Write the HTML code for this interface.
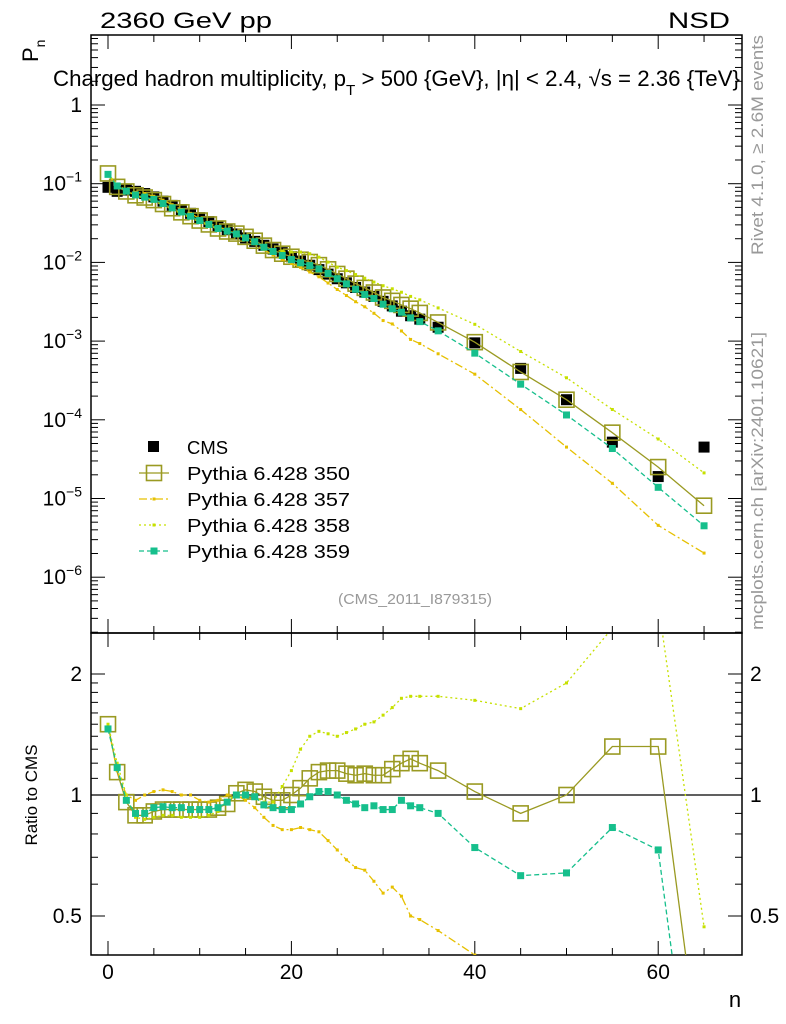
<!DOCTYPE html>
<html><head><meta charset="utf-8"><style>
html,body{margin:0;padding:0;background:#fff;width:786px;height:1024px;overflow:hidden}
svg{display:block;font-family:"Liberation Sans",sans-serif}
</style></head><body>
<svg id="c" width="786" height="1024" xmlns="http://www.w3.org/2000/svg"></svg>
<script>
const nvals=[0,1,2,3,4,5,6,7,8,9,10,11,12,13,14,15,16,17,18,19,20,21,22,23,24,25,26,27,28,29,30,31,32,33,34,36,40,45,50,55,60,65];
const cmsVals=[0.09,0.08,0.083,0.08,0.075,0.068,0.06,0.053,0.047,0.042,0.037,0.033,0.029,0.026,0.023,0.0205,0.0185,0.0165,0.0148,0.0133,0.0118,0.0104,0.0092,0.0081,0.0071,0.0062,0.0055,0.0048,0.0042,0.0037,0.0032,0.0028,0.0024,0.0021,0.0019,0.0015,0.00095,0.00045,0.00018,0.000052,0.000019,0.000045];
const r350=[1.5,1.14,0.96,0.89,0.89,0.91,0.92,0.92,0.92,0.92,0.92,0.92,0.93,0.95,1.01,1.03,1.02,0.99,0.97,0.97,1.0,1.04,1.1,1.14,1.15,1.15,1.13,1.12,1.13,1.12,1.12,1.16,1.2,1.23,1.2,1.15,1.02,0.9,1.0,1.32,1.32,0.18];
const r357=[1.48,1.15,1.0,0.97,1.0,1.02,1.03,1.02,1.0,1.0,0.97,0.96,0.97,1.0,1.0,0.97,0.93,0.88,0.84,0.82,0.82,0.83,0.82,0.81,0.77,0.73,0.69,0.66,0.65,0.61,0.57,0.59,0.56,0.5,0.49,0.46,0.4,0.3,0.25,0.3,0.24,0.045];
const r358=[1.5,1.2,1.0,0.88,0.87,0.88,0.89,0.89,0.88,0.88,0.88,0.89,0.91,0.97,1.0,1.0,0.99,0.96,0.96,1.05,1.15,1.3,1.4,1.44,1.42,1.4,1.43,1.46,1.5,1.52,1.58,1.65,1.74,1.76,1.76,1.76,1.72,1.64,1.9,2.6,3.0,0.47];
const r359=[1.46,1.17,0.97,0.9,0.9,0.93,0.935,0.93,0.93,0.92,0.92,0.92,0.93,0.96,1.0,1.0,0.99,0.945,0.93,0.92,0.92,0.95,0.99,1.02,1.02,1.0,0.97,0.95,0.93,0.94,0.92,0.92,0.97,0.94,0.93,0.9,0.74,0.63,0.64,0.83,0.73,0.1];
const xTicks=[0,20,40,60];
const yDecades=[0,-1,-2,-3,-4,-5,-6];
const rTicks=[0.5,1,2];

const NS="http://www.w3.org/2000/svg";
const svg=document.getElementById('c');
const L=91,R=742,T=35,MB=633,RB=955;
const X=n=>108+n*9.17;
const Y=p=>105-78.7*Math.log10(p);
const YR=r=>795-121*Math.log2(r);
function el(tag,attrs,parent){const e=document.createElementNS(NS,tag);for(const k in attrs)e.setAttribute(k,attrs[k]);(parent||svg).appendChild(e);return e;}
function txt(s,x,y,attrs,tl){const a=Object.assign({x:x,y:y,'font-size':20},attrs||{});if(tl){a.textLength=tl;a.lengthAdjust='spacingAndGlyphs';}const e=el('text',a);e.textContent=s;return e;}

const defs=el('defs',{});
const c1=el('clipPath',{id:'cm'},defs);el('rect',{x:L,y:T,width:R-L,height:MB-T},c1);
const c2=el('clipPath',{id:'cr'},defs);el('rect',{x:L,y:MB,width:R-L,height:RB-MB},c2);

const f1=el('rect',{x:L,y:T,width:R-L,height:MB-T,fill:'none',stroke:'#000','stroke-width':1.5});

const f2=el('rect',{x:L,y:MB,width:R-L,height:RB-MB,fill:'none',stroke:'#000','stroke-width':1.5});


for(let n=0;n<=65;n+=5){
  const big=(n%20===0);const len=big?14:7;const x=X(n);
  [[T,1],[MB,-1],[MB,1],[RB,-1]].forEach(([y,d])=>{el('line',{x1:x,x2:x,y1:y,y2:y+d*len,stroke:'#000','stroke-width':1});});
}
xTicks.forEach(v=>{const t=txt(String(v),X(v),979,{'text-anchor':'middle','font-size':21});});

for(let d=-7;d<=0;d++){
  for(let m=1;m<10;m++){
    const y=Y(m*Math.pow(10,d));if(y<T||y>MB)continue;
    const len=m===1?14:7;
    el('line',{x1:L,x2:L+len,y1:y,y2:y,stroke:'#000'});
    el('line',{x1:R,x2:R-len,y1:y,y2:y,stroke:'#000'});
  }
}
yDecades.forEach(d=>{
  const y=Y(Math.pow(10,d));
  let t;
  if(d===0){t=txt('1',82,y+7,{'text-anchor':'end','font-size':21});}
  else{t=el('text',{x:82,y:y+7,'font-size':21,'text-anchor':'end'});t.appendChild(document.createTextNode('10'));const s=el('tspan',{dy:-9,'font-size':14},t);s.textContent=String(d).replace('-','\u2212');}
  
});

[0.4,0.5,0.6,0.7,0.8,0.9,1,1.1,1.2,1.3,1.4,1.5,1.6,1.7,1.8,1.9,2].forEach(r=>{
  const y=YR(r);if(y<MB||y>RB)return;
  const len=(r===0.5||r===1||r===2)?14:7;
  el('line',{x1:L,x2:L+len,y1:y,y2:y,stroke:'#000'});
  el('line',{x1:R,x2:R-len,y1:y,y2:y,stroke:'#000'});
});
rTicks.forEach(r=>{
  const a=txt(String(r),82,YR(r)+7,{'text-anchor':'end','font-size':21});
  const b=txt(String(r),750,YR(r)+7,{'text-anchor':'start','font-size':21});
});
const ref=el('line',{x1:L,x2:R,y1:YR(1),y2:YR(1),stroke:'#000','stroke-width':1.2});


const series=[
 {name:'350',r:r350,color:'#9a9a22',dash:'',mk:'open',size:15},
 {name:'357',r:r357,color:'#e6c000',dash:'8,3,2,3',mk:'dot',size:3},
 {name:'358',r:r358,color:'#c6e000',dash:'2,3',mk:'dot',size:3},
 {name:'359',r:r359,color:'#16bf8c',dash:'5,3',mk:'fill',size:7}
];
const gm=el('g',{'clip-path':'url(#cm)'});
const gr=el('g',{'clip-path':'url(#cr)'});
function marker(g,x,y,s){
  const h=s.size/2;
  if(s.mk==='open') return el('rect',{x:x-h,y:y-h,width:s.size,height:s.size,fill:'none',stroke:s.color,'stroke-width':1.6},g);
  return el('rect',{x:x-h,y:y-h,width:s.size,height:s.size,fill:s.color},g);
}
nvals.forEach((n,i)=>{const m=el('rect',{x:X(n)-5.5,y:Y(cmsVals[i])-5.5,width:11,height:11,fill:'#000'},gm);});
series.forEach(s=>{
  const ptsM=nvals.map((n,i)=>X(n)+','+Y(cmsVals[i]*s.r[i])).join(' ');
  const lm=el('polyline',{points:ptsM,fill:'none',stroke:s.color,'stroke-width':1.3,'stroke-dasharray':s.dash},gm);
  
  const ptsR=nvals.map((n,i)=>X(n)+','+YR(s.r[i])).join(' ');
  const lr=el('polyline',{points:ptsR,fill:'none',stroke:s.color,'stroke-width':1.3,'stroke-dasharray':s.dash},gr);
  
  nvals.forEach((n,i)=>{
    const a=marker(gm,X(n),Y(cmsVals[i]*s.r[i]),s);
    const b=marker(gr,X(n),YR(s.r[i]),s);
  });
});

const lg=el('g',{});
const lm0=el('rect',{x:148,y:441,width:11,height:11,fill:'#000'},lg);
const lt0=txt('CMS',187,454,{'font-size':18},41);lg.appendChild(lt0);
series.forEach((s,i)=>{
  const y=473+i*26;
  el('line',{x1:139,x2:169,y1:y,y2:y,stroke:s.color,'stroke-width':1.3,'stroke-dasharray':s.dash},lg);
  const m=marker(lg,154,y,s);
  const t=txt('Pythia 6.428 '+s.name,187,y+7,{'font-size':18},163);lg.appendChild(t);
  
});

let t;
t=txt('2360 GeV pp',100,28,{'font-size':22},172);
t=txt('NSD',668,28,{'font-size':22},62);
t=el('text',{x:53,y:86,'font-size':22,textLength:687,lengthAdjust:'spacingAndGlyphs'});
t.appendChild(document.createTextNode('Charged hadron multiplicity, p'));
let s1=el('tspan',{dy:9,'font-size':15},t);s1.textContent='T';
let s2=el('tspan',{dy:-9},t);s2.textContent=' > 500 {GeV}, |η| < 2.4, √s = 2.36 {TeV}';
t=el('text',{x:0,y:0,'font-size':22,transform:'translate(38,62) rotate(-90)'});
t.appendChild(document.createTextNode('P'));let s3=el('tspan',{dy:7,'font-size':14},t);s3.textContent='n';
t=txt('Ratio to CMS',0,0,{'font-size':17,'text-anchor':'middle',transform:'translate(37,795) rotate(-90)'});
t=txt('n',735,1007,{'font-size':22,'text-anchor':'middle'});
t=txt('(CMS_2011_I879315)',338,604,{'font-size':15,fill:'#999'},154);
t=txt('Rivet 4.1.0, ≥ 2.6M events',0,0,{'font-size':17,fill:'#999',transform:'translate(763,255) rotate(-90)'},220);
t=txt('mcplots.cern.ch [arXiv:2401.10621]',0,0,{'font-size':17,fill:'#999',transform:'translate(763,630) rotate(-90)'},298);
</script>
</body></html>
